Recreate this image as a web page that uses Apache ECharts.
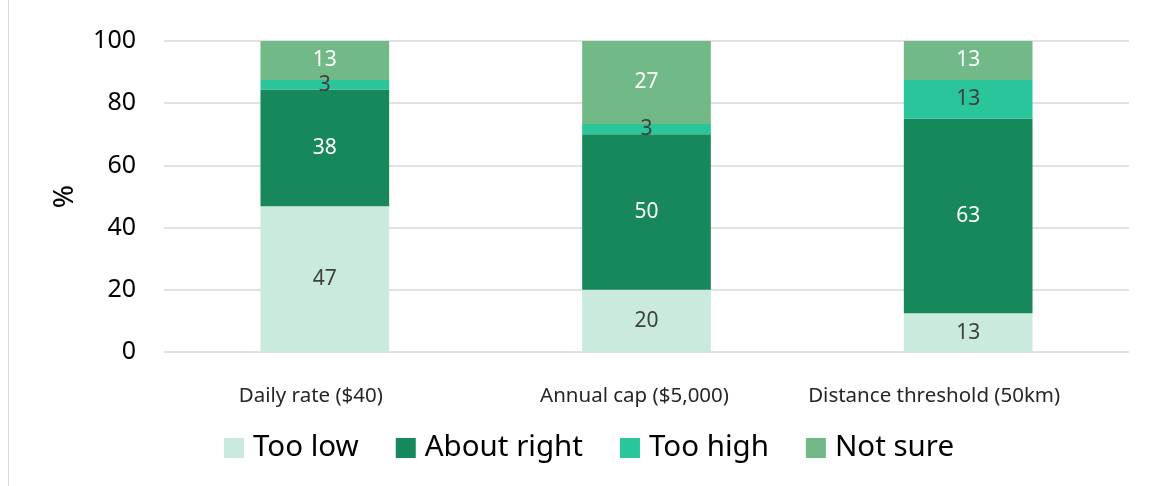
<!DOCTYPE html>
<html>
<head>
<meta charset="utf-8">
<script src="https://cdn.jsdelivr.net/npm/echarts@6/dist/echarts.min.js"></script>
<style>
html,body{margin:0;padding:0;background:#fff;}
#chart{width:1150px;height:486px;}
</style>
</head>
<body>
<div id="chart"></div>
<script>
const categories = ['Daily rate ($40)', 'Annual cap ($5,000)', 'Distance threshold (50km)'];
const seriesNames = ['Too low', 'About right', 'Too high', 'Not sure'];
const tooLow = [46.875, 20, 12.5];
const aboutRight = [37.5, 50, 62.5];
const tooHigh = [3.125, 3.333, 12.5];
const notSure = [12.5, 26.667, 12.5];
const yTicks = [0, 20, 40, 60, 80, 100];

const values = [tooLow, aboutRight, tooHigh, notSure];
const colors = ['#C9EADC', '#17885B', '#2AC59A', '#71BA87'];
const labelColors = ['#404040', '#ffffff', '#404040', '#ffffff'];
const FONT = 'Noto Sans';
// extra right padding per category label (reference labels sit left of bar centre)
const labelShiftPad = [28, 24, 68];

const rich = {};
labelShiftPad.forEach((p, i) => {
  rich['c' + i] = { fontSize: 20.5, color: '#262626', fontFamily: FONT, padding: [0, p, 0, 0] };
});

const chart = echarts.init(document.getElementById('chart'));
chart.setOption({
  animation: false,
  textStyle: { fontFamily: FONT },
  grid: { left: 164, right: 21, top: 41, bottom: 134 },
  graphic: [{
    type: 'line', shape: { x1: 8.5, y1: 0, x2: 8.5, y2: 486 },
    style: { stroke: '#D9D9D9', lineWidth: 1 }
  }],
  legend: {
    bottom: 18, left: 219,
    itemWidth: 20, itemHeight: 20, itemGap: 37,
    icon: 'rect',
    textStyle: { fontSize: 29.5, color: '#000', fontFamily: FONT, padding: [0, 0, 0, 4] },
    data: seriesNames
  },
  xAxis: {
    type: 'category', data: categories,
    axisLine: { show: false }, axisTick: { show: false },
    axisLabel: {
      margin: 34,
      formatter: (v, i) => '{c' + i + '|' + v + '}',
      rich
    }
  },
  yAxis: {
    type: 'value', min: yTicks[0], max: yTicks[yTicks.length - 1], interval: 20,
    name: '%', nameLocation: 'middle', nameGap: 85, nameRotate: 90,
    nameTextStyle: { fontSize: 28, color: '#000', fontFamily: FONT },
    axisLabel: { fontSize: 25, color: '#000', margin: 28, fontFamily: FONT },
    splitLine: { lineStyle: { color: '#D9D9D9', width: 1.5 } },
    axisLine: { show: false }, axisTick: { show: false }
  },
  series: seriesNames.map((name, i) => ({
    name, type: 'bar', stack: 'total', barWidth: '40%',
    data: values[i],
    itemStyle: { color: colors[i] },
    label: {
      show: true, position: 'inside', fontSize: 21, fontFamily: FONT,
      color: labelColors[i],
      formatter: p => Math.round(p.value)
    }
  }))
});
</script>
</body>
</html>
